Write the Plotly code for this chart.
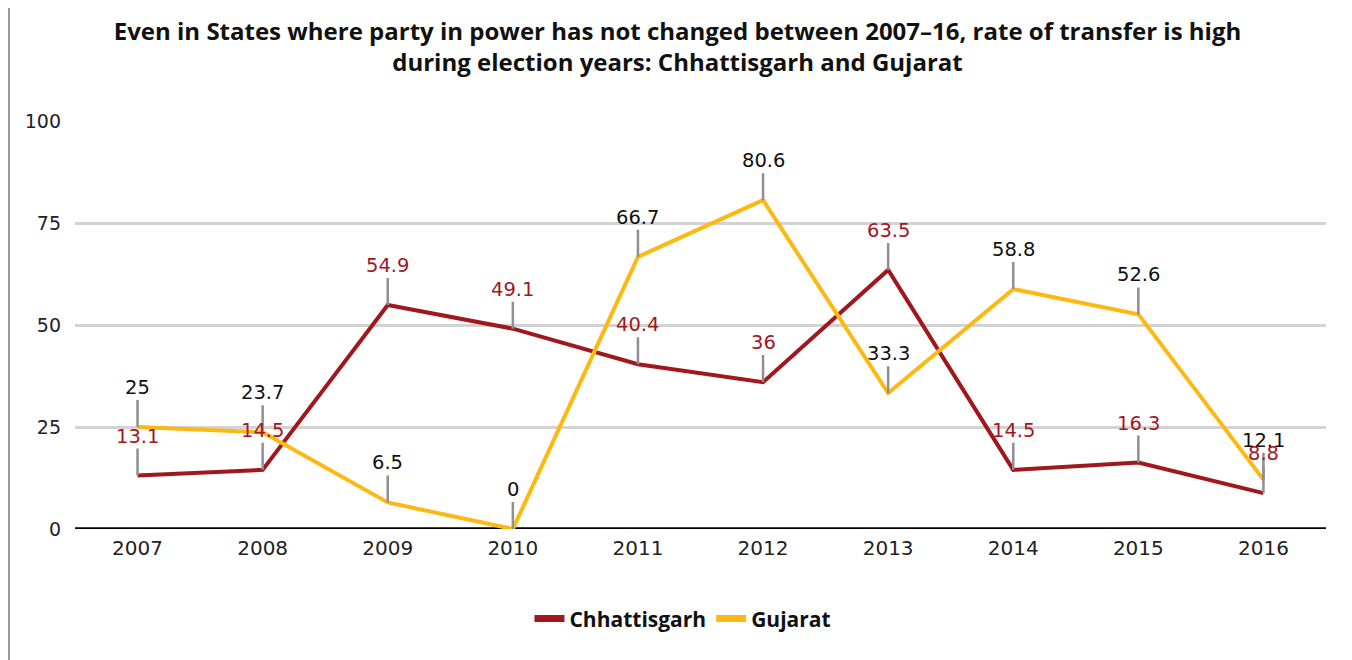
import plotly.graph_objects as go

years = ["2007", "2008", "2009", "2010", "2011", "2012", "2013", "2014", "2015", "2016"]
chhattisgarh = [13.1, 14.5, 54.9, 49.1, 40.4, 36, 63.5, 14.5, 16.3, 8.8]
gujarat = [25, 23.7, 6.5, 0, 66.7, 80.6, 33.3, 58.8, 52.6, 12.1]
y_ticks = [0, 25, 50, 75, 100]

RED = "#A0181E"
YEL = "#FDB913"
NUMFONT = "DejaVu Sans"
HEADFONT = "Open Sans"

W, H = 1344, 652
L, R, T, B = 67, 26, 113, 131
PW, PH = W - L - R, H - T - B

fig = go.Figure()
fig.add_trace(go.Scatter(x=years, y=chhattisgarh, mode="lines", name="Chhattisgarh",
                         line=dict(color=RED, width=4), showlegend=False))
fig.add_trace(go.Scatter(x=years, y=gujarat, mode="lines", name="Gujarat",
                         line=dict(color=YEL, width=4), showlegend=False))
# legend entries
fig.add_trace(go.Scatter(x=[years[0]], y=[None], mode="lines", name="Chhattisgarh",
                         line=dict(color=RED, width=7)))
fig.add_trace(go.Scatter(x=[years[0]], y=[None], mode="lines", name="Gujarat",
                         line=dict(color=YEL, width=7)))

annots = []
for series, col in ((gujarat, "#111111"), (chhattisgarh, RED)):
    for i, v in enumerate(series):
        annots.append(dict(x=i, y=v, xref="x", yref="y", text=f"{v:g}",
                           showarrow=True, arrowhead=0, arrowwidth=2.5, arrowcolor="#8f9093",
                           ax=0, ay=-27, yanchor="bottom", borderpad=0, standoff=0,
                           font=dict(family=NUMFONT, size=19.5, color=col)))

fig.update_layout(
    width=W, height=H,
    paper_bgcolor="white", plot_bgcolor="white",
    margin=dict(l=L, r=R, t=T, b=B, autoexpand=False),
    title=dict(text="<b>Even in States where party in power has not changed between 2007–16, rate of transfer is high<br>during election years: Chhattisgarh and Gujarat</b>",
               x=669.5 / W, xref="container", xanchor="center", y=1 - 32 / H, yref="container", yanchor="middle",
               font=dict(family=HEADFONT, size=24, color="#111111")),
    xaxis=dict(type="category", categoryorder="array", categoryarray=years, range=[-0.5, len(years) - 0.5],
               showgrid=False, ticks="", showline=False, automargin=False, ticklabelstandoff=5,
               tickfont=dict(family=NUMFONT, size=20, color="#222222"), zeroline=False),
    yaxis=dict(range=[0, 100], tickvals=y_ticks, showgrid=True, gridcolor="#d3d3d3", gridwidth=2.5,
               zeroline=False, showline=False, ticks="", ticklabelstandoff=13, automargin=False,
               tickfont=dict(family=NUMFONT, size=19, color="#222222")),
    legend=dict(orientation="h", x=0.486, xanchor="center", y=-0.22, yanchor="middle",
                font=dict(family=HEADFONT, size=21, color="#111111", weight="bold"),
                itemwidth=30, traceorder="normal"),
    annotations=annots,
    showlegend=True,
)
# zero baseline
fig.add_shape(type="line", xref="paper", yref="y", x0=0, x1=1, y0=0, y1=0,
              line=dict(color="black", width=3.5), layer="below")
# figure frame (left/right edges)
for fx in (1, W - 3):
    fig.add_shape(type="line", xref="paper", yref="paper", x0=(fx - L) / PW, x1=(fx - L) / PW,
                  y0=-B / PH, y1=1 + T / PH, line=dict(color="#999999", width=2))

fig.write_html("out.html")
